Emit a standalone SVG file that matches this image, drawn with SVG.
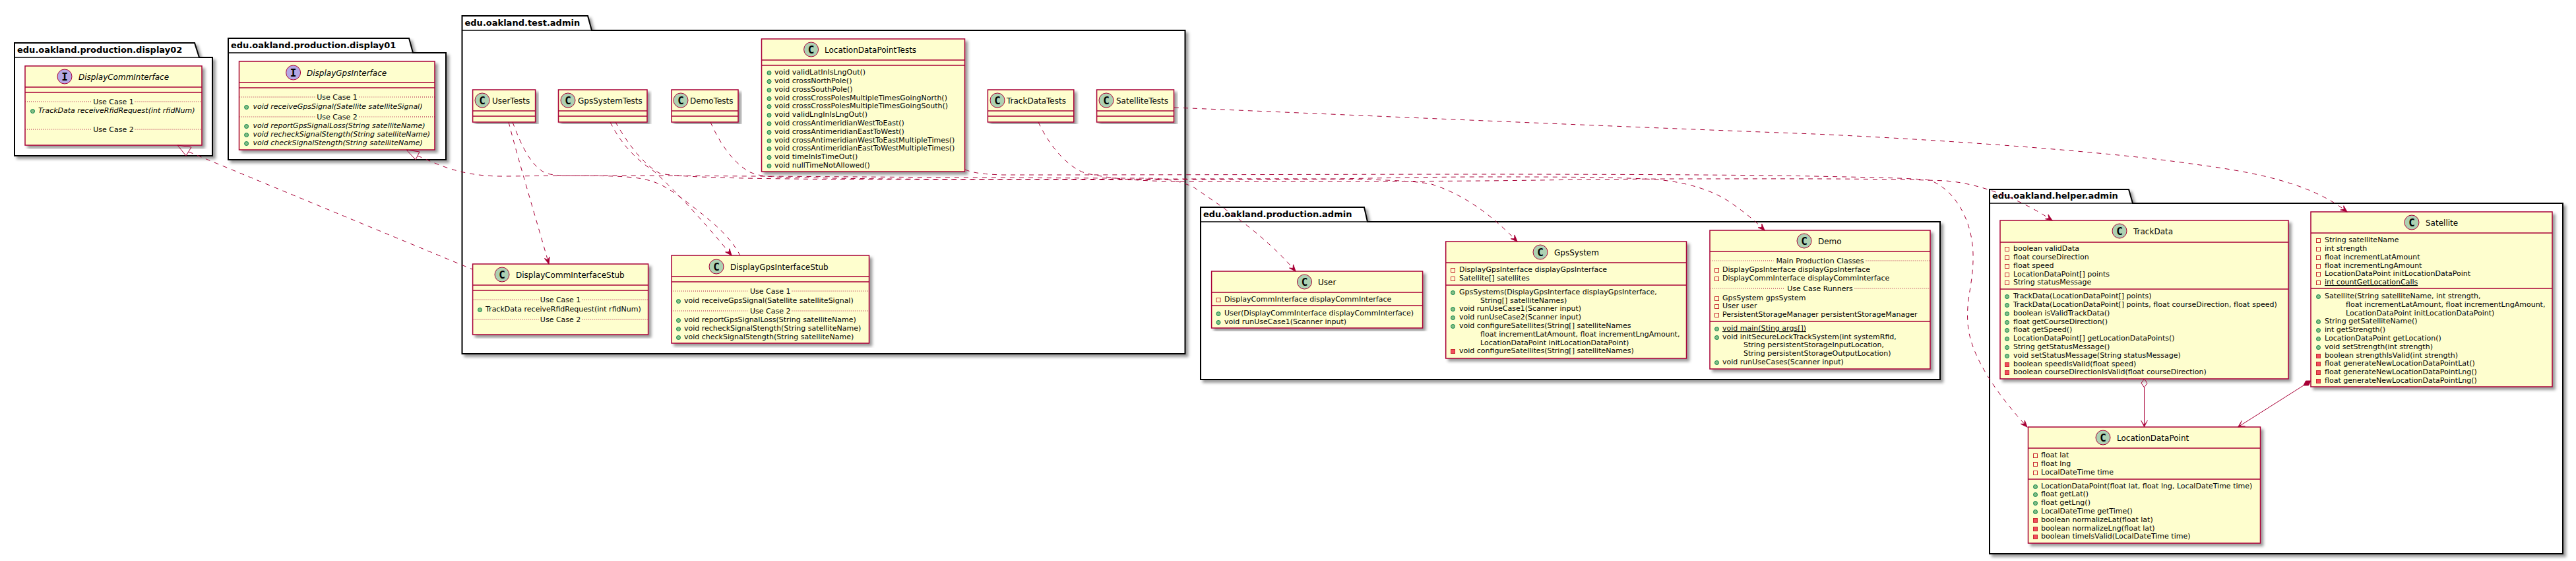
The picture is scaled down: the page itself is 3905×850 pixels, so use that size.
<svg xmlns="http://www.w3.org/2000/svg" xmlns:xlink="http://www.w3.org/1999/xlink" width="3905" height="850" viewBox="0 0 3905 850">
<style>
text{font-family:"DejaVu Sans",sans-serif;font-size:11px;fill:#000}
.pk{fill:#fff;stroke:#000;stroke-width:2;filter:url(#sh)}
.pl{fill:none;stroke:#000;stroke-width:1.5}
.pt{font-size:13px;font-weight:bold}
.box{fill:#FEFECE;stroke:#A80036;stroke-width:1.5;filter:url(#sh)}
.div{stroke:#A80036;stroke-width:1.5}
.sep{stroke:#A80036;stroke-width:1;stroke-dasharray:1,2}
.cc{fill:#ADD1B2;stroke:#A80036;stroke-width:1}
.ci{fill:#B4A7E5;stroke:#A80036;stroke-width:1}
.gl{font-family:"DejaVu Sans Mono",monospace;font-weight:bold;font-size:16px;text-anchor:middle}
.h{font-size:12px}
.it{font-style:italic}
.m{text-anchor:middle}
.u{text-decoration:underline}
.dep{fill:none;stroke:#A80036;stroke-width:1;stroke-dasharray:7,7;marker-end:url(#ah)}
.imp{fill:none;stroke:#A80036;stroke-width:1;stroke-dasharray:7,7}
.sol{fill:none;stroke:#A80036;stroke-width:1;marker-end:url(#ao)}
.tri{fill:none;stroke:#A80036;stroke-width:1}
.di{fill:none;stroke:#A80036;stroke-width:1}
.df{fill:#A80036;stroke:#A80036;stroke-width:1}
#pu{fill:#84BE84;stroke:#038048}
#pa{fill:none;stroke:#C82930}
#pm{fill:#F24D5C;stroke:#C82930}
</style>
<defs>
<filter id="sh" x="-5%" y="-5%" width="110%" height="110%"><feGaussianBlur in="SourceGraphic" stdDeviation="2" result="b"/><feColorMatrix in="b" type="matrix" values="0 0 0 0 0 0 0 0 0 0 0 0 0 0 0 0 0 0 .4 0" result="c"/><feOffset in="c" dx="4" dy="4" result="o"/><feBlend in="SourceGraphic" in2="o" mode="normal"/></filter>
<marker id="ah" markerUnits="userSpaceOnUse" viewBox="-11 -6 12 12" refX="0" refY="0" markerWidth="12" markerHeight="12" orient="auto"><path d="M0,0 L-10,-4 L-6,0 L-10,4 Z" fill="#A80036" stroke="#A80036"/></marker>
<marker id="ao" markerUnits="userSpaceOnUse" viewBox="-11 -6 12 12" refX="0" refY="0" markerWidth="12" markerHeight="12" orient="auto"><path d="M0,0 L-10,-5 L-3,0 L-10,5 Z" fill="#A80036" stroke="#A80036" stroke-width=".6"/></marker>
<circle id="pu" r="3"/>
<rect id="pa" x="-3" y="-3" width="6" height="6"/>
<rect id="pm" x="-3" y="-3" width="6" height="6"/>
</defs>
<rect width="3905" height="850" fill="#fff"/>

<g id="pkg-display02"><path class="pk" d="M22,87 V65 H295 L302,87 H322 V236 H22 Z"/><path class="pl" d="M22,87 H302"/><text class="pt" x="26" y="80">edu.oakland.production.display02</text></g>
<g id="pkg-display01"><path class="pk" d="M346,80 V58 H620 L626,80 H676 V242 H346 Z"/><path class="pl" d="M346,80 H626"/><text class="pt" x="350" y="73">edu.oakland.production.display01</text></g>
<g id="pkg-test"><path class="pk" d="M700.5,46 V24 H891 L897,46 H1796.5 V536 H700.5 Z"/><path class="pl" d="M700.5,46 H897"/><text class="pt" x="704.5" y="39">edu.oakland.test.admin</text></g>
<g id="pkg-production"><path class="pk" d="M1820,336 V314 H2068 L2073,336 H2941 V575 H1820 Z"/><path class="pl" d="M1820,336 H2073"/><text class="pt" x="1824" y="329">edu.oakland.production.admin</text></g>
<g id="pkg-helper"><path class="pk" d="M3016,308 V287 H3227 L3233,308 H3885 V839 H3016 Z"/><path class="pl" d="M3016,308 H3233"/><text class="pt" x="3020" y="301">edu.oakland.helper.admin</text></g>

<g id="DisplayCommInterface">
<rect class="box" x="38" y="100" width="268" height="120"/><line class="div" x1="38" y1="132" x2="306" y2="132"/><line class="div" x1="38" y1="140" x2="306" y2="140"/>
<circle class="ci" cx="98" cy="116" r="11"/><text class="gl" x="98" y="122">I</text><text class="h it" x="119" y="120.5">DisplayCommInterface</text>
<line class="sep" x1="38" y1="154" x2="139.5" y2="154"/><line class="sep" x1="204.5" y1="154" x2="306" y2="154"/><text class="m" x="172" y="158">Use Case 1</text>
<use href="#pu" x="49.5" y="168.5"/><text class="it" x="58" y="171">TrackData receiveRfidRequest(int rfidNum)</text>
<line class="sep" x1="38" y1="196" x2="139.5" y2="196"/><line class="sep" x1="204.5" y1="196" x2="306" y2="196"/><text class="m" x="172" y="200">Use Case 2</text>
</g>

<g id="DisplayGpsInterface">
<rect class="box" x="362.5" y="93" width="296.5" height="134"/><line class="div" x1="362.5" y1="125" x2="659" y2="125"/><line class="div" x1="362.5" y1="133" x2="659" y2="133"/>
<circle class="ci" cx="444.6" cy="110" r="11"/><text class="gl" x="444.6" y="116">I</text><text class="h it" x="465" y="114.5">DisplayGpsInterface</text>
<line class="sep" x1="362.5" y1="147" x2="478" y2="147"/><line class="sep" x1="544" y1="147" x2="659" y2="147"/><text class="m" x="511" y="151">Use Case 1</text>
<use href="#pu" x="373.6" y="162.5"/><text class="it" x="383.5" y="165">void receiveGpsSignal(Satellite satelliteSignal)</text>
<line class="sep" x1="362.5" y1="177" x2="478" y2="177"/><line class="sep" x1="544" y1="177" x2="659" y2="177"/><text class="m" x="511" y="181">Use Case 2</text>
<use href="#pu" x="373.6" y="191.5"/><text class="it" x="383.5" y="194">void reportGpsSignalLoss(String satelliteName)</text>
<use href="#pu" x="373.6" y="204.5"/><text class="it" x="383.5" y="207">void recheckSignalStength(String satelliteName)</text>
<use href="#pu" x="373.6" y="217.5"/><text class="it" x="383.5" y="220">void checkSignalStength(String satelliteName)</text>
</g>

<g id="UserTests"><rect class="box" x="716.6" y="136" width="95" height="49"/><line class="div" x1="716.6" y1="168" x2="811.6" y2="168"/><line class="div" x1="716.6" y1="176" x2="811.6" y2="176"/><circle class="cc" cx="731" cy="152" r="11"/><text class="gl" x="731" y="158">C</text><text class="h" x="746" y="156.5">UserTests</text></g>
<g id="GpsSystemTests"><rect class="box" x="846.5" y="136" width="134.5" height="49"/><line class="div" x1="846.5" y1="168" x2="981" y2="168"/><line class="div" x1="846.5" y1="176" x2="981" y2="176"/><circle class="cc" cx="861" cy="152" r="11"/><text class="gl" x="861" y="158">C</text><text class="h" x="876" y="156.5">GpsSystemTests</text></g>
<g id="DemoTests"><rect class="box" x="1018" y="136" width="101" height="49"/><line class="div" x1="1018" y1="168" x2="1119" y2="168"/><line class="div" x1="1018" y1="176" x2="1119" y2="176"/><circle class="cc" cx="1032" cy="152" r="11"/><text class="gl" x="1032" y="158">C</text><text class="h" x="1046" y="156.5">DemoTests</text></g>
<g id="TrackDataTests"><rect class="box" x="1497.4" y="136" width="130.4" height="49"/><line class="div" x1="1497.4" y1="168" x2="1627.8" y2="168"/><line class="div" x1="1497.4" y1="176" x2="1627.8" y2="176"/><circle class="cc" cx="1512" cy="152" r="11"/><text class="gl" x="1512" y="158">C</text><text class="h" x="1526" y="156.5">TrackDataTests</text></g>
<g id="SatelliteTests"><rect class="box" x="1662.6" y="136" width="116.9" height="49"/><line class="div" x1="1662.6" y1="168" x2="1779.5" y2="168"/><line class="div" x1="1662.6" y1="176" x2="1779.5" y2="176"/><circle class="cc" cx="1677" cy="152" r="11"/><text class="gl" x="1677" y="158">C</text><text class="h" x="1692" y="156.5">SatelliteTests</text></g>

<g id="LocationDataPointTests">
<rect class="box" x="1154.5" y="59" width="308" height="201"/><line class="div" x1="1154.5" y1="91" x2="1462.5" y2="91"/><line class="div" x1="1154.5" y1="99" x2="1462.5" y2="99"/>
<circle class="cc" cx="1229.6" cy="75" r="11"/><text class="gl" x="1229.6" y="81">C</text><text class="h" x="1250" y="79.5">LocationDataPointTests</text>
<use href="#pu" x="1166" y="110.5"/><text x="1174" y="113">void validLatInIsLngOut()</text>
<use href="#pu" x="1166" y="123.5"/><text x="1174" y="126">void crossNorthPole()</text>
<use href="#pu" x="1166" y="136.5"/><text x="1174" y="139">void crossSouthPole()</text>
<use href="#pu" x="1166" y="149.5"/><text x="1174" y="152">void crossCrossPolesMultipleTimesGoingNorth()</text>
<use href="#pu" x="1166" y="161.5"/><text x="1174" y="164">void crossCrossPolesMultipleTimesGoingSouth()</text>
<use href="#pu" x="1166" y="174.5"/><text x="1174" y="177">void validLngInIsLngOut()</text>
<use href="#pu" x="1166" y="187.5"/><text x="1174" y="190">void crossAntimeridianWestToEast()</text>
<use href="#pu" x="1166" y="200.5"/><text x="1174" y="203">void crossAntimeridianEastToWest()</text>
<use href="#pu" x="1166" y="213.5"/><text x="1174" y="216">void crossAntimeridianWestToEastMultipleTimes()</text>
<use href="#pu" x="1166" y="225.5"/><text x="1174" y="228">void crossAntimeridianEastToWestMultipleTimes()</text>
<use href="#pu" x="1166" y="238.5"/><text x="1174" y="241">void timeInIsTimeOut()</text>
<use href="#pu" x="1166" y="251.5"/><text x="1174" y="254">void nullTimeNotAllowed()</text>
</g>

<g id="DisplayCommInterfaceStub">
<rect class="box" x="716.6" y="400" width="266" height="107"/><line class="div" x1="716.6" y1="432" x2="982.6" y2="432"/><line class="div" x1="716.6" y1="440" x2="982.6" y2="440"/>
<circle class="cc" cx="761" cy="416" r="11"/><text class="gl" x="761" y="422">C</text><text class="h" x="782" y="420.5">DisplayCommInterfaceStub</text>
<line class="sep" x1="716.6" y1="454" x2="816.5" y2="454"/><line class="sep" x1="882.5" y1="454" x2="982.6" y2="454"/><text class="m" x="849.6" y="458">Use Case 1</text>
<use href="#pu" x="727.5" y="469.5"/><text x="736" y="472">TrackData receiveRfidRequest(int rfidNum)</text>
<line class="sep" x1="716.6" y1="484" x2="816.5" y2="484"/><line class="sep" x1="882.5" y1="484" x2="982.6" y2="484"/><text class="m" x="849.6" y="488">Use Case 2</text>
</g>

<g id="DisplayGpsInterfaceStub">
<rect class="box" x="1018" y="387" width="299.5" height="133"/><line class="div" x1="1018" y1="419" x2="1317.5" y2="419"/><line class="div" x1="1018" y1="427" x2="1317.5" y2="427"/>
<circle class="cc" cx="1086" cy="404" r="11"/><text class="gl" x="1086" y="410">C</text><text class="h" x="1107" y="408.5">DisplayGpsInterfaceStub</text>
<line class="sep" x1="1018" y1="441" x2="1134.5" y2="441"/><line class="sep" x1="1200.5" y1="441" x2="1317.5" y2="441"/><text class="m" x="1167.7" y="445">Use Case 1</text>
<use href="#pu" x="1028.5" y="456.5"/><text x="1037" y="459">void receiveGpsSignal(Satellite satelliteSignal)</text>
<line class="sep" x1="1018" y1="471" x2="1134.5" y2="471"/><line class="sep" x1="1200.5" y1="471" x2="1317.5" y2="471"/><text class="m" x="1167.7" y="475">Use Case 2</text>
<use href="#pu" x="1028.5" y="485.5"/><text x="1037" y="488">void reportGpsSignalLoss(String satelliteName)</text>
<use href="#pu" x="1028.5" y="498.5"/><text x="1037" y="501">void recheckSignalStength(String satelliteName)</text>
<use href="#pu" x="1028.5" y="511.5"/><text x="1037" y="514">void checkSignalStength(String satelliteName)</text>
</g>

<g id="User">
<rect class="box" x="1836.6" y="411" width="320" height="86"/><line class="div" x1="1836.6" y1="443" x2="2156.6" y2="443"/><line class="div" x1="1836.6" y1="463" x2="2156.6" y2="463"/>
<circle class="cc" cx="1977.5" cy="427" r="11"/><text class="gl" x="1977.5" y="433">C</text><text class="h" x="1998" y="431.5">User</text>
<use href="#pa" x="1847" y="454.5"/><text x="1856" y="457">DisplayCommInterface displayCommInterface</text>
<use href="#pu" x="1847" y="475.5"/><text x="1856" y="478">User(DisplayCommInterface displayCommInterface)</text>
<use href="#pu" x="1847" y="488.5"/><text x="1856" y="491">void runUseCase1(Scanner input)</text>
</g>

<g id="GpsSystem">
<rect class="box" x="2191.7" y="366" width="364.8" height="177"/><line class="div" x1="2191.7" y1="398" x2="2556.5" y2="398"/><line class="div" x1="2191.7" y1="432" x2="2556.5" y2="432"/>
<circle class="cc" cx="2335" cy="382" r="11"/><text class="gl" x="2335" y="388">C</text><text class="h" x="2356" y="386.5">GpsSystem</text>
<use href="#pa" x="2202.5" y="409.5"/><text x="2212" y="412">DisplayGpsInterface displayGpsInterface</text>
<use href="#pa" x="2202.5" y="422.5"/><text x="2212" y="425">Satellite[] satellites</text>
<use href="#pu" x="2202.5" y="443.5"/><text x="2212" y="446">GpsSystems(DisplayGpsInterface displayGpsInterface,</text>
<text x="2244" y="459">String[] satelliteNames)</text>
<use href="#pu" x="2202.5" y="468.5"/><text x="2212" y="471">void runUseCase1(Scanner input)</text>
<use href="#pu" x="2202.5" y="481.5"/><text x="2212" y="484">void runUseCase2(Scanner input)</text>
<use href="#pu" x="2202.5" y="494.5"/><text x="2212" y="497">void configureSatellites(String[] satelliteNames</text>
<text x="2244" y="510">float incrementLatAmount, float incrementLngAmount,</text>
<text x="2244" y="523">LocationDataPoint initLocationDataPoint)</text>
<use href="#pm" x="2202.5" y="532.5"/><text x="2212" y="535">void configureSatellites(String[] satelliteNames)</text>
</g>

<g id="Demo">
<rect class="box" x="2592" y="349" width="334" height="210"/><line class="div" x1="2592" y1="381" x2="2926" y2="381"/><line class="div" x1="2592" y1="487" x2="2926" y2="487"/>
<circle class="cc" cx="2735" cy="365" r="11"/><text class="gl" x="2735" y="371">C</text><text class="h" x="2756" y="369.5">Demo</text>
<line class="sep" x1="2592" y1="395" x2="2688.5" y2="395"/><line class="sep" x1="2828.5" y1="395" x2="2926" y2="395"/><text class="m" x="2759" y="399">Main Production Classes</text>
<use href="#pa" x="2602.5" y="409.5"/><text x="2611" y="412">DisplayGpsInterface displayGpsInterface</text>
<use href="#pa" x="2602.5" y="422.5"/><text x="2611" y="425">DisplayCommInterface displayCommInterface</text>
<line class="sep" x1="2592" y1="437" x2="2705.5" y2="437"/><line class="sep" x1="2811.5" y1="437" x2="2926" y2="437"/><text class="m" x="2759" y="441">Use Case Runners</text>
<use href="#pa" x="2602.5" y="452.5"/><text x="2611" y="455">GpsSystem gpsSystem</text>
<use href="#pa" x="2602.5" y="464.5"/><text x="2611" y="467">User user</text>
<use href="#pa" x="2602.5" y="477.5"/><text x="2611" y="480">PersistentStorageManager persistentStorageManager</text>
<use href="#pu" x="2602.5" y="498.5"/><text class="u" x="2611" y="501">void main(Sting args[])</text>
<use href="#pu" x="2602.5" y="511.5"/><text x="2611" y="514">void initSecureLockTrackSystem(int systemRfid,</text>
<text x="2643" y="526">String persistentStorageInputLocation,</text>
<text x="2643" y="539">String persistentStorageOutputLocation)</text>
<use href="#pu" x="2602.5" y="549.5"/><text x="2611" y="552">void runUseCases(Scanner input)</text>
</g>

<g id="TrackData">
<rect class="box" x="3032" y="334" width="437" height="240"/><line class="div" x1="3032" y1="367" x2="3469" y2="367"/><line class="div" x1="3032" y1="438" x2="3469" y2="438"/>
<circle class="cc" cx="3213" cy="350" r="11"/><text class="gl" x="3213" y="356">C</text><text class="h" x="3234" y="354.5">TrackData</text>
<use href="#pa" x="3042.5" y="377.5"/><text x="3052" y="380">boolean validData</text>
<use href="#pa" x="3042.5" y="390.5"/><text x="3052" y="393">float courseDirection</text>
<use href="#pa" x="3042.5" y="403.5"/><text x="3052" y="406">float speed</text>
<use href="#pa" x="3042.5" y="416.5"/><text x="3052" y="419">LocationDataPoint[] points</text>
<use href="#pa" x="3042.5" y="428.5"/><text x="3052" y="431">String statusMessage</text>
<use href="#pu" x="3042.5" y="449.5"/><text x="3052" y="452">TrackData(LocationDataPoint[] points)</text>
<use href="#pu" x="3042.5" y="462.5"/><text x="3052" y="465">TrackData(LocationDataPoint[] points, float courseDirection, float speed)</text>
<use href="#pu" x="3042.5" y="475.5"/><text x="3052" y="478">boolean isValidTrackData()</text>
<use href="#pu" x="3042.5" y="488.5"/><text x="3052" y="491">float getCourseDirection()</text>
<use href="#pu" x="3042.5" y="500.5"/><text x="3052" y="503">float getSpeed()</text>
<use href="#pu" x="3042.5" y="513.5"/><text x="3052" y="516">LocationDataPoint[] getLocationDataPoints()</text>
<use href="#pu" x="3042.5" y="526.5"/><text x="3052" y="529">String getStatusMessage()</text>
<use href="#pu" x="3042.5" y="539.5"/><text x="3052" y="542">void setStatusMessage(String statusMessage)</text>
<use href="#pm" x="3042.5" y="552.5"/><text x="3052" y="555">boolean speedIsValid(float speed)</text>
<use href="#pm" x="3042.5" y="564.5"/><text x="3052" y="567">boolean courseDirectionIsValid(float courseDirection)</text>
</g>

<g id="Satellite">
<rect class="box" x="3503" y="321" width="366" height="265"/><line class="div" x1="3503" y1="353" x2="3869" y2="353"/><line class="div" x1="3503" y1="437" x2="3869" y2="437"/>
<circle class="cc" cx="3656" cy="337" r="11"/><text class="gl" x="3656" y="343">C</text><text class="h" x="3677" y="341.5">Satellite</text>
<use href="#pa" x="3514.5" y="364.5"/><text x="3524" y="367">String satelliteName</text>
<use href="#pa" x="3514.5" y="377.5"/><text x="3524" y="380">int strength</text>
<use href="#pa" x="3514.5" y="390.5"/><text x="3524" y="393">float incrementLatAmount</text>
<use href="#pa" x="3514.5" y="403.5"/><text x="3524" y="406">float incrementLngAmount</text>
<use href="#pa" x="3514.5" y="415.5"/><text x="3524" y="418">LocationDataPoint initLocationDataPoint</text>
<use href="#pa" x="3514.5" y="428.5"/><text class="u" x="3524" y="431">int countGetLocationCalls</text>
<use href="#pu" x="3514.5" y="449.5"/><text x="3524" y="452">Satellite(String satelliteName, int strength,</text>
<text x="3556" y="465">float incrementLatAmount, float incrementLngAmount,</text>
<text x="3556" y="478">LocationDataPoint initLocationDataPoint)</text>
<use href="#pu" x="3514.5" y="487.5"/><text x="3524" y="490">String getSatelliteName()</text>
<use href="#pu" x="3514.5" y="500.5"/><text x="3524" y="503">int getStrength()</text>
<use href="#pu" x="3514.5" y="513.5"/><text x="3524" y="516">LocationDataPoint getLocation()</text>
<use href="#pu" x="3514.5" y="526.5"/><text x="3524" y="529">void setStrength(int strength)</text>
<use href="#pm" x="3514.5" y="539.5"/><text x="3524" y="542">boolean strengthIsValid(int strength)</text>
<use href="#pm" x="3514.5" y="551.5"/><text x="3524" y="554">float generateNewLocationDataPointLat()</text>
<use href="#pm" x="3514.5" y="564.5"/><text x="3524" y="567">float generateNewLocationDataPointLng()</text>
<use href="#pm" x="3514.5" y="577.5"/><text x="3524" y="580">float generateNewLocationDataPointLng()</text>
</g>

<g id="LocationDataPoint">
<rect class="box" x="3074.5" y="647" width="352" height="176"/><line class="div" x1="3074.5" y1="679" x2="3426.5" y2="679"/><line class="div" x1="3074.5" y1="726" x2="3426.5" y2="726"/>
<circle class="cc" cx="3188" cy="663" r="11"/><text class="gl" x="3188" y="669">C</text><text class="h" x="3209" y="667.5">LocationDataPoint</text>
<use href="#pa" x="3085.5" y="690.5"/><text x="3094" y="693">float lat</text>
<use href="#pa" x="3085.5" y="703.5"/><text x="3094" y="706">float lng</text>
<use href="#pa" x="3085.5" y="716.5"/><text x="3094" y="719">LocalDateTime time</text>
<use href="#pu" x="3085.5" y="737.5"/><text x="3094" y="740">LocationDataPoint(float lat, float lng, LocalDateTime time)</text>
<use href="#pu" x="3085.5" y="749.5"/><text x="3094" y="752">float getLat()</text>
<use href="#pu" x="3085.5" y="762.5"/><text x="3094" y="765">float getLng()</text>
<use href="#pu" x="3085.5" y="775.5"/><text x="3094" y="778">LocalDateTime getTime()</text>
<use href="#pm" x="3085.5" y="788.5"/><text x="3094" y="791">boolean normalizeLat(float lat)</text>
<use href="#pm" x="3085.5" y="801.5"/><text x="3094" y="804">boolean normalizeLng(float lat)</text>
<use href="#pm" x="3085.5" y="813.5"/><text x="3094" y="816">boolean timeIsValid(LocalDateTime time)</text>
</g>

<g id="connectors">
<polygon class="tri" points="269,220 290,223 282,236"/>
<path class="imp" d="M286,230 L716,408"/>
<polygon class="tri" points="616,227 636,230 630,242"/>
<path class="imp" d="M633,236 C660,247 695,267 760,267 C800,267 870,265 930,267 C985,269 1000,275 1037,303 C1075,332 1105,355 1122,387"/>
<path class="dep" d="M771,185 C785,240 815,340 832,400"/>
<path class="dep" d="M777,185 C790,220 805,252 827,262 C840,267 860,266 900,266 C1100,266 1500,270 1740,270 C1770,271 1790,274 1810,284 C1870,325 1920,360 1964,411"/>
<path class="dep" d="M925,185 C945,225 970,245 992,260 C1030,295 1075,345 1109,387"/>
<path class="dep" d="M933,185 C950,215 975,250 1001,263 C1030,268 1100,270 1200,271 C1400,274 1800,270 2000,271 C2080,272 2140,273 2170,279 C2220,295 2260,325 2300,366"/>
<path class="dep" d="M1077,185 C1090,215 1110,245 1135,260 C1150,267 1165,268 1200,269 C1400,273 1800,273 1950,272 C2050,271 2150,268 2250,268 C2350,268 2450,268 2510,272 C2560,276 2600,290 2625,308 C2645,322 2660,334 2675,349"/>
<path class="dep" d="M1463,257 C1475,262 1490,264 1520,265 C1800,265 2100,264 2250,264 C2450,264 2650,265 2750,267 C2850,269 2900,270 2925,273 C2960,285 2990,330 2991,385 C2992,430 2980,450 2983,490 C2986,540 3030,600 3073,647"/>
<path class="dep" d="M1574,185 C1590,220 1620,256 1648,263 C1690,272 1740,275 1800,275 C1950,275 2100,275 2250,274 C2350,273 2450,271 2550,271 C2700,271 2850,270 2950,274 C3000,278 3060,300 3111,334"/>
<path class="dep" d="M1780,163 C2000,172 2400,190 2750,203 C2950,212 3200,230 3328,249 C3410,260 3500,275 3558,321"/>
<polygon class="di" points="3250.5,574 3255,580.5 3250.5,587 3246,580.5"/>
<path class="sol" d="M3250.5,587 L3250.5,647"/>
<polygon class="df" points="3503,577 3499.6,583.9 3492,584 3495.4,577.1"/>
<path class="sol" d="M3492,584 L3392.5,647"/>
</g>
</svg>
